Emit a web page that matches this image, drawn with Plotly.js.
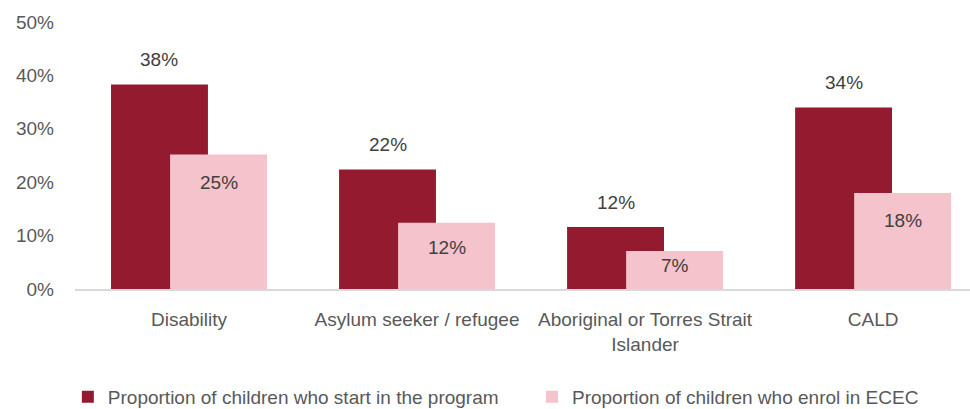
<!DOCTYPE html>
<html>
<head>
<meta charset="utf-8">
<script src="https://cdn.plot.ly/plotly-3.0.1.min.js"></script>
<style>html,body{margin:0;padding:0;background:#fff;}#chart{width:970px;height:409px;}</style>
</head>
<body>
<div id="chart"></div>
<script>
var categories = ["Disability", "Asylum seeker / refugee", "Aboriginal or Torres Strait Islander", "CALD"];
var tickLabels = ["Disability", "Asylum seeker / refugee", "Aboriginal or Torres Strait<br>Islander", "CALD"];
var startProgram = [38.3, 22.4, 11.6, 34.0];
var enrolECEC = [25.2, 12.4, 7.1, 18.0];
var seriesNames = ["Proportion of children who start in the program", "Proportion of children who enrol in ECEC"];
var yTicks = [0, 10, 20, 30, 40, 50];

var FONT = "'Liberation Sans', Arial, sans-serif";
var darkColor = "#931A2F";
var pinkColor = "#F4C3CC";
var pxPerUnit = (409 - 22 - 120) / 50;

var xIdx = categories.map(function (c, i) { return i; });

var traces = [
  {type: "bar", name: seriesNames[0], x: xIdx, y: startProgram, offset: -0.342, width: 0.425,
   marker: {color: darkColor}, hoverinfo: "none", legend: "legend"},
  {type: "bar", name: seriesNames[1], x: xIdx, y: enrolECEC, offset: -0.083, width: 0.425,
   marker: {color: pinkColor}, hoverinfo: "none", legend: "legend2"}
];

var annotations = [];
startProgram.forEach(function (v, i) {
  annotations.push({x: i - 0.342 + 0.2125, y: v, xref: "x", yref: "y", text: Math.round(v) + "%",
    showarrow: false, yshift: 25, font: {family: FONT, size: 19, color: "#404040"}});
});
enrolECEC.forEach(function (v, i) {
  var h = v * pxPerUnit;
  annotations.push({x: i - 0.083 + 0.2125, y: v, xref: "x", yref: "y", text: Math.round(v) + "%",
    showarrow: false, yshift: -Math.min(28, 0.37 * h), font: {family: FONT, size: 19, color: "#404040"}});
});

var legendFont = {family: FONT, size: 19, color: "#595959"};

var layout = {
  width: 970, height: 409,
  margin: {l: 75, r: 0, t: 22, b: 120, pad: 0, autoexpand: false},
  paper_bgcolor: "#fff", plot_bgcolor: "#fff",
  barmode: "overlay",
  showlegend: true,
  font: {family: FONT, size: 19, color: "#595959"},
  xaxis: {
    range: [-0.5, 3.425], tickmode: "array", tickvals: xIdx, ticktext: tickLabels,
    showgrid: false, zeroline: false, showline: true, linecolor: "#d9d9d9", linewidth: 2,
    ticks: "", ticklabelstandoff: 12, fixedrange: true,
    tickfont: {family: FONT, size: 19, color: "#595959"}
  },
  yaxis: {
    range: [0, 50], tickmode: "array", tickvals: yTicks,
    ticktext: yTicks.map(function (t) { return t + "%"; }),
    showgrid: false, zeroline: false, showline: false, ticks: "", ticklabelstandoff: 20,
    tickfont: {family: FONT, size: 19, color: "#595959"}, fixedrange: true
  },
  legend: {
    orientation: "h", x: -0.008, xanchor: "left", y: -0.404, yanchor: "middle",
    font: legendFont, itemclick: false, itemdoubleclick: false
  },
  legend2: {
    orientation: "h", x: 0.5106, xanchor: "left", y: -0.404, yanchor: "middle",
    font: legendFont, itemclick: false, itemdoubleclick: false
  },
  annotations: annotations
};

Plotly.newPlot("chart", traces, layout, {displayModeBar: false, staticPlot: true});
</script>
</body>
</html>
